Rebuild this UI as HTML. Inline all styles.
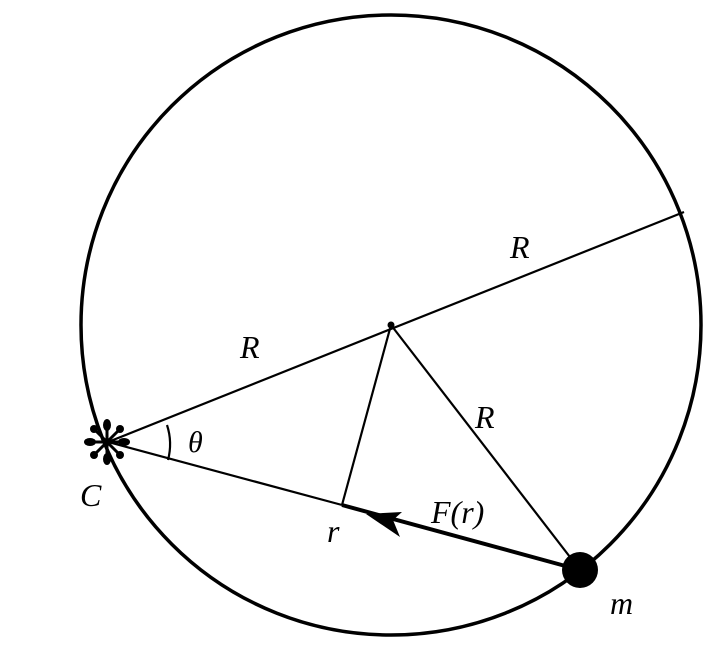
<!DOCTYPE html>
<html><head><style>html,body{margin:0;padding:0;background:#fff}svg{display:block}
text{font-family:"Liberation Serif",serif;font-style:italic;fill:#000}</style></head>
<body>
<svg width="716" height="651" viewBox="0 0 716 651" xmlns="http://www.w3.org/2000/svg">
<circle cx="391" cy="325" r="310" fill="none" stroke="#000" stroke-width="3.5"/>
<line x1="108" y1="442" x2="684" y2="212" stroke="#000" stroke-width="2.2"/>
<line x1="108" y1="442" x2="342" y2="505" stroke="#000" stroke-width="2.2"/>
<line x1="342" y1="505" x2="580" y2="570" stroke="#000" stroke-width="4"/>
<line x1="391" y1="325" x2="342" y2="505" stroke="#000" stroke-width="2.2"/>
<line x1="391" y1="325" x2="580" y2="570" stroke="#000" stroke-width="2.2"/>
<circle cx="391" cy="325" r="3.5" fill="#000"/>
<polygon points="366,514 402,512 393,520 400,537" fill="#000"/>
<circle cx="580" cy="570" r="18" fill="#000"/>
<path d="M167,425 A62,62 0 0 1 168,460" fill="none" stroke="#000" stroke-width="2.2"/>
<g transform="translate(107,442)" fill="#000" stroke="#000" stroke-width="3">
<line x1="0" y1="-20" x2="0" y2="20"/>
<line x1="-20" y1="0" x2="20" y2="0"/>
<line x1="-14" y1="-14" x2="14" y2="14"/>
<line x1="-14" y1="14" x2="14" y2="-14"/>
<g stroke="none">
<ellipse cx="0" cy="-17" rx="4" ry="6"/>
<ellipse cx="0" cy="17" rx="4" ry="6"/>
<ellipse cx="-17" cy="0" rx="6" ry="4"/>
<ellipse cx="17" cy="0" rx="6" ry="4"/>
<circle cx="-13" cy="-13" r="4"/><circle cx="13" cy="13" r="4"/>
<circle cx="-13" cy="13" r="4"/><circle cx="13" cy="-13" r="4"/>
</g>
</g>
<text x="80" y="506" font-size="32">C</text>
<text x="188" y="452" font-size="30">θ</text>
<text x="240" y="358" font-size="32">R</text>
<text x="510" y="258" font-size="32">R</text>
<text x="475" y="428" font-size="32">R</text>
<text x="431" y="523" font-size="32">F(r)</text>
<text x="327" y="542" font-size="32">r</text>
<text x="610" y="614" font-size="32">m</text>
</svg>
</body></html>
